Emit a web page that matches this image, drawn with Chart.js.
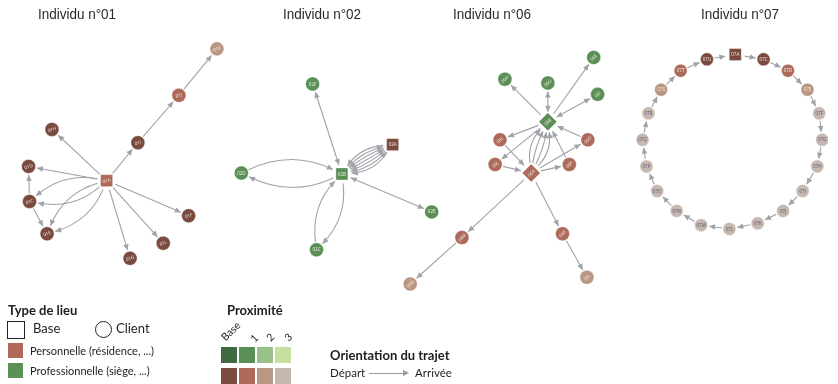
<!DOCTYPE html>
<html lang="fr">
<head>
<meta charset="utf-8">
<title>Trajets par individu</title>
<script src="https://cdn.jsdelivr.net/npm/chart.js@4.4.1/dist/chart.umd.min.js"></script>
<style>
html,body{margin:0;padding:0;background:#fff;}
#wrap{position:relative;width:838px;height:384px;overflow:hidden;font-family:'Lato','Noto Sans',sans-serif;color:#1e1e1e;}
#graph{position:absolute;left:0;top:0;}
.titre{position:absolute;top:5px;font-family:'Liberation Sans',sans-serif;font-size:15px;transform:translateX(-50%) scaleX(0.9);white-space:nowrap;color:#2a2a2a;}
.h{position:absolute;font-weight:bold;font-size:13px;white-space:nowrap;}
.t{position:absolute;white-space:nowrap;}
.sw{position:absolute;width:16px;height:16px;}
.rot{position:absolute;font-size:10.5px;line-height:12px;white-space:nowrap;transform:rotate(-45deg);}
</style>
</head>
<body>
<div id="wrap">
  <canvas id="graph" width="838" height="384"></canvas>
  <div class="titre" style="left:77px">Individu n°01</div>
  <div class="titre" style="left:322px">Individu n°02</div>
  <div class="titre" style="left:492px">Individu n°06</div>
  <div class="titre" style="left:740px">Individu n°07</div>

  <div class="h" style="left:8px;top:302px">Type de lieu</div>
  <div class="sw" style="left:7px;top:321px;width:16px;height:16px;border:1px solid #222;"></div>
  <div class="t" style="left:33px;top:320px;font-size:13px">Base</div>
  <div class="sw" style="left:95px;top:321px;width:15px;height:15px;border:1px solid #222;border-radius:50%;"></div>
  <div class="t" style="left:116px;top:320px;font-size:13px">Client</div>
  <div class="sw" style="left:8px;top:343px;width:15px;height:15px;background:#b06858"></div>
  <div class="t" style="left:30px;top:344px;font-size:11px">Personnelle (résidence, ...)</div>
  <div class="sw" style="left:8px;top:363px;width:15px;height:15px;background:#5b9155"></div>
  <div class="t" style="left:30px;top:364px;font-size:11px">Professionnelle (siège, ...)</div>

  <div class="h" style="left:227px;top:302px">Proximité</div>
  <div class="rot" style="left:227px;top:331px;transform-origin:left bottom">Base</div>
  <div class="rot" style="left:251px;top:332px">1</div>
  <div class="rot" style="left:267px;top:331px">2</div>
  <div class="rot" style="left:285px;top:331px">3</div>
  <div id="proxSw"></div>

  <div class="h" style="left:330px;top:347px">Orientation du trajet</div>
  <div class="t" style="left:330px;top:366px;font-size:11.5px">Départ</div>
  <div style="position:absolute;left:369px;top:373px;width:35px;height:1px;background:#9b9b9b"></div>
  <div style="position:absolute;left:403px;top:370px;width:0;height:0;border-top:3.5px solid transparent;border-bottom:3.5px solid transparent;border-left:6px solid #9b9b9b"></div>
  <div class="t" style="left:415px;top:366px;font-size:11.5px">Arrivée</div>
</div>
<script>
// palette: [base, 1, 2, 3]
const proGreens = ['#3f6a40', '#5a8f56', '#97c28a', '#c5df9f'];
const persoBrowns = ['#7a4a3e', '#ad6a5a', '#bb9683', '#c5b9af'];

const panels = ['01', '02', '06', '07'];

// nodes: id, position, kind, lieu, proximity
const nodeIds = [
  '01A','01I','01J','01K','01H','01D','01C','01E','01F','01L','01G',
  '02A','02B','02F','02D','02E','02C',
  '06A','06B','06H','06G','06E','06I','06C','06D','06J','06F','06M','06N','06K','06L',
  '07A','07C','07D','07E','07F','07G','07H','07I','07J','07K','07L','07M','07N','07O','07P','07Q','07R','07S','07T','07U'
];
const nodeX = [
  99,131,173,212,43,19,20,38,183,157,123,
  392,340,310,237,432,314,
  534,551,507,551,598,602,502,592,497,573,463,410,566,591,
  743,772,797,817,829,832,827,812,792,766,737,708,683,663,652,648,654,667,687,714
];
const nodeY = [
  180,140,90,41,126,165,202,236,217,246,262,
  142,173,78,172,213,253,
  172,118,73,77,50,89,137,137,163,163,240,289,236,282,
  47,52,64,84,109,137,165,191,212,225,231,227,212,191,165,137,109,84,64,52
];
const nodeKind = [
  'base','client','client','client','client','client','client','client','client','client','client',
  'base','base','client','client','client','client',
  'base','base','client','client','client','client','client','client','client','client','client','client','client','client',
  'base','client','client','client','client','client','client','client','client','client','client','client','client','client','client','client','client','client','client','client'
];
const nodeLieu = [
  'perso','perso','perso','perso','perso','perso','perso','perso','perso','perso','perso',
  'perso','pro','pro','pro','pro','pro',
  'perso','pro','pro','pro','pro','pro','perso','perso','perso','perso','perso','perso','perso','perso',
  'perso','perso','perso','perso','perso','perso','perso','perso','perso','perso','perso','perso','perso','perso','perso','perso','perso','perso','perso','perso'
];
const nodeProx = [
  1,0,1,2,0,0,0,0,0,0,0,
  0,1,1,1,1,1,
  1,1,1,1,1,1,1,1,1,1,1,2,1,2,
  0,0,1,2,3,3,3,3,3,3,3,3,3,3,3,3,3,2,1,0
];

// trips: [départ, arrivée] ; third item 'both' = aller-retour drawn on one line
const trips = [
  ['01A','01I'],['01I','01J'],['01J','01K'],['01A','01H'],['01A','01D'],
  ['01A','01C'],['01A','01C'],['01A','01E'],['01A','01E'],['01C','01D'],['01C','01E'],
  ['01A','01F'],['01A','01L'],['01A','01G'],
  ['02B','02F','both'],['02B','02E','both'],['02B','02D'],['02D','02B'],['02B','02C'],['02C','02B'],
  ['02A','02B'],['02B','02A'],['02A','02B'],['02B','02A'],['02A','02B'],['02B','02A'],['02A','02B'],
  ['06B','06H'],['06B','06G','both'],['06B','06E'],['06B','06I','both'],['06B','06C'],['06B','06J'],
  ['06D','06B'],['06F','06B'],['06A','06B'],['06A','06B'],['06A','06B'],['06A','06B'],
  ['06C','06A'],['06J','06A'],['06A','06F'],['06A','06D'],['06A','06M'],['06M','06N'],['06A','06K'],['06K','06L'],
  ['07A','07C'],['07C','07D'],['07D','07E'],['07E','07F'],['07F','07G'],['07G','07H'],['07H','07I'],
  ['07I','07J'],['07J','07K'],['07K','07L'],['07L','07M'],['07M','07N'],['07N','07O'],['07O','07P'],
  ['07P','07Q'],['07Q','07R'],['07R','07S'],['07S','07T'],['07T','07U'],['07U','07A']
];

// legend swatches
(function(){
  const box = document.getElementById('proxSw');
  [proGreens, persoBrowns].forEach((row, r)=>{
    row.forEach((c, i)=>{
      const d = document.createElement('div');
      d.className = 'sw';
      d.style.left = (221 + i*18) + 'px';
      d.style.top = (347 + r*21) + 'px';
      d.style.background = c;
      box.appendChild(d);
    });
  });
})();

function colourOf(i){
  return (nodeLieu[i] === 'pro' ? proGreens : persoBrowns)[nodeProx[i]];
}
function panelOf(i){ return nodeIds[i].slice(0,2); }
function shapeOf(i){
  if(nodeKind[i] !== 'base') return 'circle';
  return panelOf(i) === '06' ? 'rectRot' : 'rect';
}
function radiusOf(i){
  if(nodeKind[i] === 'base') return panelOf(i) === '06' ? 9 : 8.5;
  return panelOf(i) === '07' ? 6.5 : 7;
}

const points = nodeIds.map((id, i)=> ({x: nodeX[i], y: nodeY[i]}));
const idx = {};
nodeIds.forEach((id, i)=> idx[id] = i);

const EDGE = '#9fa2a7';

function arrowHead(ctx, tip, from){
  const a = Math.atan2(tip.y - from.y, tip.x - from.x);
  const L = 6, W = 2.8;
  ctx.beginPath();
  ctx.moveTo(tip.x, tip.y);
  ctx.lineTo(tip.x - L*Math.cos(a) + W*Math.sin(a), tip.y - L*Math.sin(a) - W*Math.cos(a));
  ctx.lineTo(tip.x - L*Math.cos(a) - W*Math.sin(a), tip.y - L*Math.sin(a) + W*Math.cos(a));
  ctx.closePath();
  ctx.fill();
}

const tripPlugin = {
  id: 'trajets',
  beforeDatasetsDraw(chart){
    const ctx = chart.ctx, xs = chart.scales.x, ys = chart.scales.y;
    const px = i => ({x: xs.getPixelForValue(nodeX[i]), y: ys.getPixelForValue(nodeY[i])});
    const groups = {};
    trips.forEach(t => {
      const key = [t[0], t[1]].sort().join('|');
      (groups[key] = groups[key] || []).push(t);
    });
    ctx.save();
    ctx.strokeStyle = EDGE;
    ctx.fillStyle = EDGE;
    ctx.lineWidth = 1.1;
    Object.keys(groups).forEach(key => {
      const list = groups[key];
      const [ka, kb] = key.split('|');
      const A = px(idx[ka]), B = px(idx[kb]);
      const dx = B.x - A.x, dy = B.y - A.y, dist = Math.hypot(dx, dy);
      const nx = -dy/dist, ny = dx/dist;
      const half = list.length > 1 ? dist*0.12 : 0;
      list.forEach((t, k) => {
        const apex = list.length > 1 ? -half + 2*half*k/(list.length-1) : 0;
        const i0 = idx[t[0]], i1 = idx[t[1]];
        const P0 = px(i0), P1 = px(i1);
        const c = {x: (A.x+B.x)/2 + nx*apex*2, y: (A.y+B.y)/2 + ny*apex*2};
        const r0 = radiusOf(i0) + 1, r1 = radiusOf(i1) + 1.5;
        const d0 = Math.hypot(c.x-P0.x, c.y-P0.y), d1 = Math.hypot(c.x-P1.x, c.y-P1.y);
        const s = {x: P0.x + (c.x-P0.x)/d0*r0, y: P0.y + (c.y-P0.y)/d0*r0};
        const e = {x: P1.x + (c.x-P1.x)/d1*r1, y: P1.y + (c.y-P1.y)/d1*r1};
        ctx.beginPath();
        ctx.moveTo(s.x, s.y);
        ctx.quadraticCurveTo(c.x, c.y, e.x, e.y);
        ctx.stroke();
        arrowHead(ctx, e, c);
        if(t[2] === 'both') arrowHead(ctx, s, c);
      });
    });
    ctx.restore();
  },
  afterDatasetsDraw(chart){
    const ctx = chart.ctx, xs = chart.scales.x, ys = chart.scales.y;
    ctx.save();
    ctx.font = '4.5px "Open Sans", sans-serif';
    ctx.textAlign = 'center';
    ctx.textBaseline = 'middle';
    nodeIds.forEach((id, i) => {
      const x = xs.getPixelForValue(nodeX[i]), y = ys.getPixelForValue(nodeY[i]);
      const p = panelOf(i);
      ctx.save();
      ctx.translate(x, y);
      if(p === '01') ctx.rotate(-0.3);
      if(p === '06') ctx.rotate(-0.8);
      ctx.fillStyle = nodeProx[i] === 3 ? '#5d4f78' : '#f4ece8';
      ctx.fillText(id, 0, 0.3);
      ctx.restore();
    });
    ctx.restore();
  }
};

new Chart(document.getElementById('graph'), {
  type: 'scatter',
  data: {
    datasets: [{
      label: 'Lieux',
      data: points,
      pointStyle: nodeIds.map((id, i) => shapeOf(i)),
      pointRadius: nodeIds.map((id, i) => radiusOf(i)),
      pointBackgroundColor: nodeIds.map((id, i) => colourOf(i)),
      pointBorderColor: 'rgba(255,255,255,0.35)',
      pointBorderWidth: 1
    }]
  },
  options: {
    responsive: false,
    animation: false,
    layout: {padding: 0},
    plugins: {legend: {display: false}, tooltip: {enabled: false}, title: {display: false}},
    scales: {
      x: {type: 'linear', min: 0, max: 838, display: false},
      y: {type: 'linear', min: 0, max: 384, reverse: true, display: false}
    }
  },
  plugins: [tripPlugin]
});
</script>
</body>
</html>
